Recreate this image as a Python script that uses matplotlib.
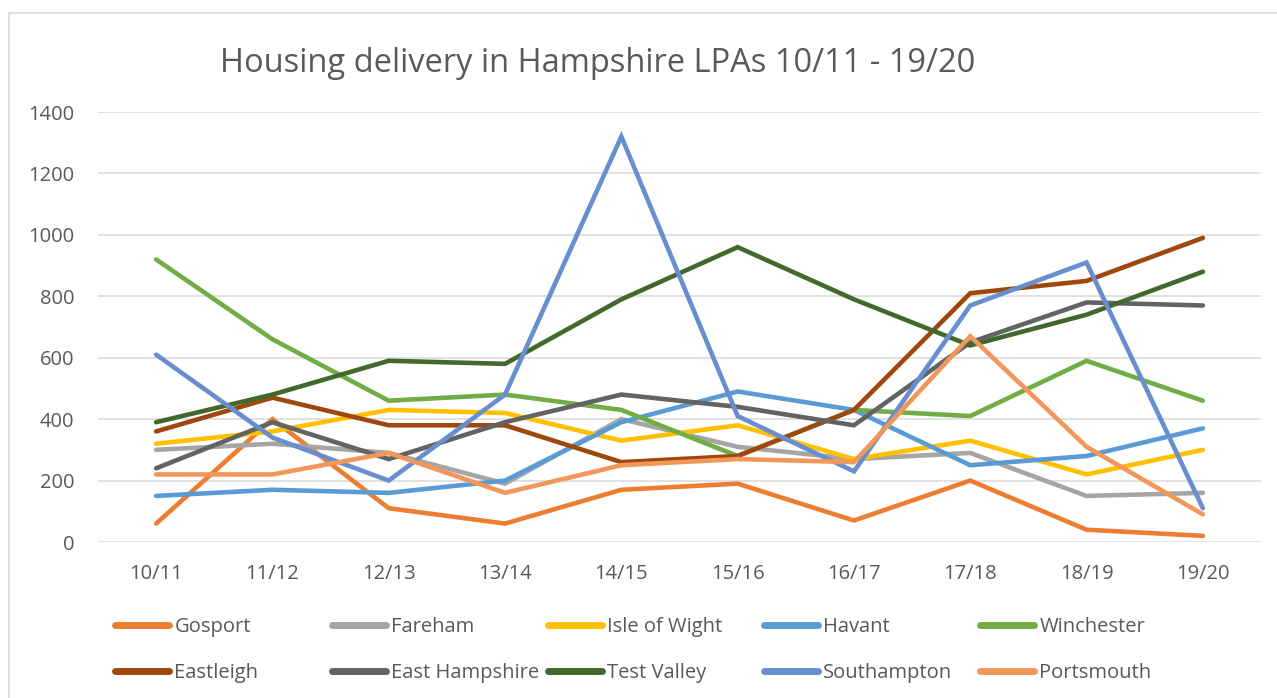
import matplotlib
matplotlib.use("Agg")
import matplotlib.pyplot as plt
from matplotlib.patches import Rectangle

plt.rcParams['font.family'] = ['Open Sans', 'DejaVu Sans']

years = ["10/11", "11/12", "12/13", "13/14", "14/15", "15/16", "16/17", "17/18", "18/19", "19/20"]

gosport        = [60, 400, 110, 60, 170, 190, 70, 200, 40, 20]
fareham        = [300, 320, 290, 190, 400, 310, 270, 290, 150, 160]
isle_of_wight  = [320, 360, 430, 420, 330, 380, 270, 330, 220, 300]
havant         = [150, 170, 160, 200, 390, 490, 430, 250, 280, 370]
winchester     = [920, 660, 460, 480, 430, 280, 430, 410, 590, 460]
eastleigh      = [360, 470, 380, 380, 260, 280, 430, 810, 850, 990]
east_hampshire = [240, 390, 270, 390, 480, 440, 380, 650, 780, 770]
test_valley    = [390, 480, 590, 580, 790, 960, 790, 640, 740, 880]
southampton    = [610, 340, 200, 480, 1320, 410, 230, 770, 910, 110]
portsmouth     = [220, 220, 290, 160, 250, 270, 260, 670, 310, 90]

series_names = ["Gosport", "Fareham", "Isle of Wight", "Havant", "Winchester",
                "Eastleigh", "East Hampshire", "Test Valley", "Southampton", "Portsmouth"]
series_values = [gosport, fareham, isle_of_wight, havant, winchester,
                 eastleigh, east_hampshire, test_valley, southampton, portsmouth]
colors = ["#ED7D31", "#A5A5A5", "#FFC000", "#5B9BD5", "#70AD47",
          "#9E480E", "#636363", "#43682B", "#698ED0", "#F1975A"]

W, H = 1277, 698
fig = plt.figure(figsize=(W / 100, H / 100), dpi=100)

# outer chart border
fig.patches.append(Rectangle((9 / W, -0.05), 1.2, (H - 13) / H + 0.05,
                             transform=fig.transFigure, fill=False,
                             edgecolor="#D9D9D9", linewidth=1.2))

ax = fig.add_axes([98 / W, (H - 542) / H, (1261 - 98) / W, 430 / H])
x = list(range(len(years)))
handles = []
for name, vals, c in zip(series_names, series_values, colors):
    ln, = ax.plot(x, vals, color=c, linewidth=3.3, solid_joinstyle='miter',
                  solid_capstyle='round', label=name)
    handles.append(ln)

ax.set_xlim(-0.5, len(years) - 0.5)
ax.set_ylim(0, 1400)
ax.set_yticks(range(0, 1401, 200))
ax.set_xticks(x)
ax.set_xticklabels(years)
ax.grid(axis='y', color="#D9D9D9", linewidth=1.1)
ax.set_axisbelow(True)
for s in ax.spines.values():
    s.set_visible(False)
ax.tick_params(axis='both', length=0, labelsize=14.5, labelcolor="#595959")
ax.tick_params(axis='y', pad=17)
ax.tick_params(axis='x', pad=16)

fig.text(598 / W, (H - 63) / H, "Housing delivery in Hampshire LPAs 10/11 - 19/20",
         ha='center', va='center', fontsize=23.5, color="#595959")

col_x = [115, 332, 548, 764, 980]
for i, cx in enumerate(col_x):
    hs = [handles[i], handles[i + 5]]
    leg = fig.legend(hs, [h.get_label() for h in hs], loc='center left',
                     bbox_to_anchor=(cx / W, (H - 650) / H), frameon=False,
                     fontsize=14.5, handlelength=2.7, handletextpad=0.25,
                     labelspacing=1.25, borderpad=0, borderaxespad=0,
                     labelcolor="#595959")
    for lh in leg.get_lines():
        lh.set_linewidth(5)
        lh.set_solid_capstyle('round')

fig.savefig("out.png", dpi=100)
